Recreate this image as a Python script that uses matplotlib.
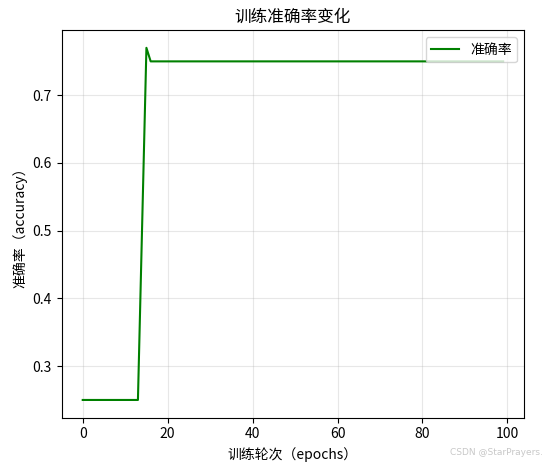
import matplotlib
matplotlib.use("Agg")
from matplotlib import pyplot as plt

plt.rcParams['font.family'] = ['Noto Sans CJK SC', 'DejaVu Sans']
plt.rcParams['axes.unicode_minus'] = False

# accuracy per epoch
epochs = list(range(100))
acc_start = [0.25] * 14          # epochs 0-13
acc_jump = [0.51, 0.77]          # epochs 14-15
acc_rest = [0.75] * 84           # epochs 16-99
accuracy = acc_start + acc_jump + acc_rest

fig, ax = plt.subplots(figsize=(5.46, 4.65), dpi=100)
ax.plot(epochs, accuracy, color='green', label='准确率')

ax.set_title('训练准确率变化')
ax.set_xlabel('训练轮次（epochs）')
ax.set_ylabel('准确率（accuracy）')
ax.grid(True, alpha=0.3)
ax.legend(loc='upper right')

fig.subplots_adjust(left=0.113, right=0.96, top=0.935, bottom=0.102)
fig.text(0.995, 0.018, 'CSDN @StarPrayers.', ha='right', va='bottom',
         fontsize=6.5, color='#c8c8c8', family=['DejaVu Sans'])

fig.savefig('out.png', dpi=100)
